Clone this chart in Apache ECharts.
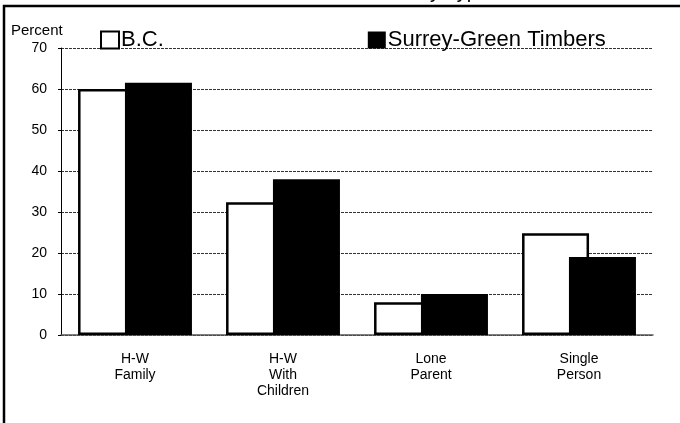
<!DOCTYPE html>
<html>
<head>
<meta charset="utf-8">
<script src="https://cdn.jsdelivr.net/npm/echarts@6/dist/echarts.min.js"></script>
<style>
html,body{margin:0;padding:0;background:#fff;}
#chart{width:680px;height:423px;}
</style>
</head>
<body>
<div id="chart"></div>
<script>
var titleText = 'Percent of Households by Type';
var categories = ['H-W\nFamily', 'H-W\nWith\nChildren', 'Lone\nParent', 'Single\nPerson'];
var seriesNames = ['B.C.', 'Surrey-Green Timbers'];
var bcValues = [60, 32.4, 8, 24.8];
var surreyValues = [61.5, 38, 10, 19];
var yTicks = [0, 10, 20, 30, 40, 50, 60, 70];

var chart = echarts.init(document.getElementById('chart'), null, {renderer: 'canvas'});
var font = 'Liberation Sans, Arial, sans-serif';
chart.setOption({
  animation: false,
  backgroundColor: '#fff',
  graphic: [
    {type: 'text', x: 350, y: 2, z: 10,
     style: {text: titleText, font: '20px ' + font, fill: '#000', align: 'center', verticalAlign: 'bottom'}},
    {type: 'polyline', z: 10,
     shape: {points: [[4, 423], [4, 6], [680, 6]]},
     style: {stroke: '#000', lineWidth: 2.5, fill: null}},
    {type: 'text', left: 11, top: 23, z: 10,
     style: {text: 'Percent', font: '15px ' + font, fill: '#000'}}
  ],
  legend: {
    left: 95, top: 24,
    itemWidth: 18, itemHeight: 17, itemGap: 204,
    icon: 'rect',
    textStyle: {fontFamily: font, fontSize: 22, color: '#000', padding: [0, 0, 0, -3]},
    data: [
      {name: seriesNames[0], itemStyle: {color: '#fff', borderColor: '#000', borderWidth: 2}},
      {name: seriesNames[1], itemStyle: {color: '#000', borderColor: '#000', borderWidth: 0}}
    ]
  },
  grid: {left: 61, right: 27, top: 48, bottom: 88, containLabel: false},
  xAxis: {
    type: 'category',
    data: categories,
    axisLine: {lineStyle: {color: '#555', width: 1.5}},
    axisTick: {show: false},
    axisLabel: {fontFamily: font, fontSize: 14, color: '#000', lineHeight: 16, margin: 16, interval: 0}
  },
  yAxis: {
    type: 'value', min: yTicks[0], max: yTicks[yTicks.length - 1], interval: 10,
    axisLine: {show: true, lineStyle: {color: '#000', width: 1}},
    axisTick: {show: true, length: 3, lineStyle: {color: '#000'}},
    axisLabel: {fontFamily: font, fontSize: 14, color: '#000', margin: 14},
    splitLine: {show: true, lineStyle: {color: '#333', width: 1, type: [3, 1]}}
  },
  series: [
    {name: seriesNames[0], type: 'bar', data: bcValues, barWidth: 67, barGap: '-30%',
     itemStyle: {color: '#fff', borderColor: '#000', borderWidth: 2.5}},
    {name: seriesNames[1], type: 'bar', data: surreyValues, barWidth: 67,
     itemStyle: {color: '#000', borderColor: '#000', borderWidth: 0}}
  ]
});
</script>
</body>
</html>
